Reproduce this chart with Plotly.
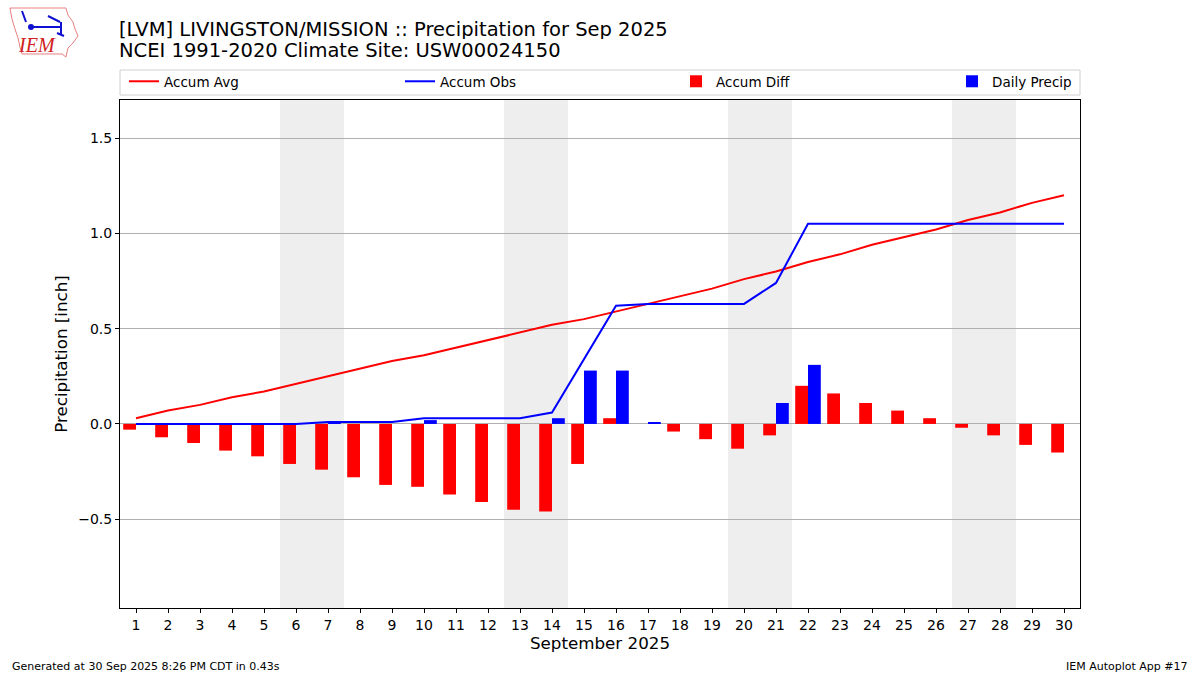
import plotly.graph_objects as go

# data (inches)
days = list(range(1, 31))
accum_avg = [0.03, 0.07, 0.10, 0.14, 0.17, 0.21, 0.25, 0.29, 0.33, 0.36,
             0.40, 0.44, 0.48, 0.52, 0.55, 0.59, 0.63, 0.67, 0.71, 0.76,
             0.80, 0.85, 0.89, 0.94, 0.98, 1.02, 1.07, 1.11, 1.16, 1.20]
accum_obs = [0.00, 0.00, 0.00, 0.00, 0.00, 0.00, 0.01, 0.01, 0.01, 0.03,
             0.03, 0.03, 0.03, 0.06, 0.34, 0.62, 0.63, 0.63, 0.63, 0.63,
             0.74, 1.05, 1.05, 1.05, 1.05, 1.05, 1.05, 1.05, 1.05, 1.05]
accum_diff = [-0.03, -0.07, -0.10, -0.14, -0.17, -0.21, -0.24, -0.28, -0.32, -0.33,
              -0.37, -0.41, -0.45, -0.46, -0.21, 0.03, 0.00, -0.04, -0.08, -0.13,
              -0.06, 0.20, 0.16, 0.11, 0.07, 0.03, -0.02, -0.06, -0.11, -0.15]
daily_precip = [0.00, 0.00, 0.00, 0.00, 0.00, 0.00, 0.01, 0.00, 0.00, 0.02,
                0.00, 0.00, 0.00, 0.03, 0.28, 0.28, 0.01, 0.00, 0.00, 0.00,
                0.11, 0.31, 0.00, 0.00, 0.00, 0.00, 0.00, 0.00, 0.00, 0.00]
weekend_starts = [6, 13, 20, 27]
y_ticks = [-0.5, 0.0, 0.5, 1.0, 1.5]

FONT = "DejaVu Sans"
PLOT_L, PLOT_R, PLOT_T, PLOT_B = 120, 1080, 100, 608


def px(x, y):
    """window pixel -> paper coords"""
    return (x - PLOT_L) / (PLOT_R - PLOT_L), (PLOT_B - y) / (PLOT_B - PLOT_T)


fig = go.Figure()

fig.add_trace(go.Scatter(x=days, y=accum_avg, mode="lines", name="Accum Avg",
                         line=dict(color="red", width=2), legend="legend"))
fig.add_trace(go.Scatter(x=days, y=accum_obs, mode="lines", name="Accum Obs",
                         line=dict(color="blue", width=2), legend="legend2"))
fig.add_trace(go.Bar(x=days, y=accum_diff, name="Accum Diff", marker_color="red",
                     marker_line_width=0, width=0.4, offset=-0.4, legend="legend3"))
fig.add_trace(go.Bar(x=days, y=daily_precip, name="Daily Precip", marker_color="blue",
                     marker_line_width=0, width=0.4, offset=0, legend="legend4"))

# weekend shading
for d in weekend_starts:
    fig.add_shape(type="rect", xref="x", yref="paper", x0=d - 0.5, x1=d + 1.5,
                  y0=0, y1=1, fillcolor="#eeeeee", line_width=0, layer="below")

# legend frame
fig.add_shape(type="rect", xref="paper", yref="paper", x0=0, x1=1,
              y0=px(0, 95)[1], y1=px(0, 70)[1],
              line=dict(color="#d0d0d0", width=1), fillcolor="white")

# IEM logo (rough sketch)
iowa = [(10, 8), (66, 8), (68, 15), (73, 22), (75, 29), (78, 36), (73, 43),
        (68, 48), (66, 57), (62, 54), (22, 54), (20, 47), (18, 38), (15, 29),
        (12, 19), (10, 8)]
path = "M " + " L ".join(f"{px(a, b)[0]:.4f},{px(a, b)[1]:.4f}" for a, b in iowa) + " Z"
fig.add_shape(type="path", xref="paper", yref="paper", path=path,
              line=dict(color="#e88080", width=1))
for (a, b), (c, d) in [((30, 27), (61, 27)), ((61, 22), (61, 35)),
                       ((48, 16), (60, 22)), ((22, 11), (26, 22)),
                       ((57, 33), (64, 36))]:
    x0, y0 = px(a, b)
    x1, y1 = px(c, d)
    fig.add_shape(type="line", xref="paper", yref="paper", x0=x0, y0=y0, x1=x1, y1=y1,
                  line=dict(color="#1010d0", width=2))
cx, cy = px(31, 27)
fig.add_shape(type="circle", xref="paper", yref="paper", x0=cx - 3 / 960, x1=cx + 3 / 960,
              y0=cy - 3 / 508, y1=cy + 3 / 508, fillcolor="#1010d0", line_width=0)
lx, ly = px(37, 45)
fig.add_annotation(text="<i>IEM</i>", xref="paper", yref="paper", x=lx, y=ly,
                   xanchor="center", yanchor="middle", showarrow=False,
                   font=dict(family="Liberation Serif", size=20, color="#d02020"))

# titles
for text, ty in [("[LVM] LIVINGSTON/MISSION :: Precipitation for Sep 2025", 29),
                 ("NCEI 1991-2020 Climate Site: USW00024150", 50)]:
    tx, tyy = px(117, ty)
    fig.add_annotation(text=text, xref="paper", yref="paper", x=tx, y=tyy,
                       xanchor="left", yanchor="middle", showarrow=False,
                       height=20, font=dict(size=19.5, color="black"))

# footer
fx, fy = px(10, 666)
fig.add_annotation(text="Generated at 30 Sep 2025 8:26 PM CDT in 0.43s",
                   xref="paper", yref="paper", x=fx, y=fy,
                   xanchor="left", yanchor="middle", showarrow=False,
                   font=dict(size=11, color="black"))
fx, fy = px(1190, 666)
fig.add_annotation(text="IEM Autoplot App #17",
                   xref="paper", yref="paper", x=fx, y=fy,
                   xanchor="right", yanchor="middle", showarrow=False,
                   font=dict(size=11, color="black"))

# one legend per entry so the items spread across the frame
legend_style = dict(orientation="h", xanchor="left", yanchor="top",
                    bgcolor="rgba(0,0,0,0)", borderwidth=0, font=dict(size=13.5))
legend_x = [124, 400, 676, 952]
ly_top = px(0, 66)[1]

fig.update_layout(
    width=1200, height=675,
    margin=dict(l=PLOT_L, r=1200 - PLOT_R, t=PLOT_T, b=675 - PLOT_B),
    paper_bgcolor="white", plot_bgcolor="white",
    font=dict(family=FONT, size=14, color="black"),
    barmode="overlay",
    showlegend=True,
    legend=dict(x=px(legend_x[0], 0)[0], y=ly_top, **legend_style),
    legend2=dict(x=px(legend_x[1], 0)[0], y=ly_top, **legend_style),
    legend3=dict(x=px(legend_x[2], 0)[0], y=ly_top, **legend_style),
    legend4=dict(x=px(legend_x[3], 0)[0], y=ly_top, **legend_style),
)

fig.update_xaxes(range=[0.5, 30.5], tickvals=days, ticktext=[str(d) for d in days],
                 showgrid=False, zeroline=False, showline=True, mirror=True,
                 linecolor="black", linewidth=1, ticks="outside", ticklen=4,
                 tickcolor="black",
                 title=dict(text="September 2025", font=dict(size=16.7), standoff=4))
fig.update_yaxes(range=[-0.966, 1.70], tickvals=y_ticks, tickformat=".1f",
                 showgrid=True, gridcolor="#b0b0b0", gridwidth=1, zeroline=False,
                 showline=True, mirror=True, linecolor="black", linewidth=1,
                 ticks="outside", ticklen=4, tickcolor="black",
                 title=dict(text="Precipitation [inch]", font=dict(size=16.7), standoff=6))

fig.write_html("out.html", config={"displayModeBar": False},
               post_script="document.body.style.margin='0px';")
